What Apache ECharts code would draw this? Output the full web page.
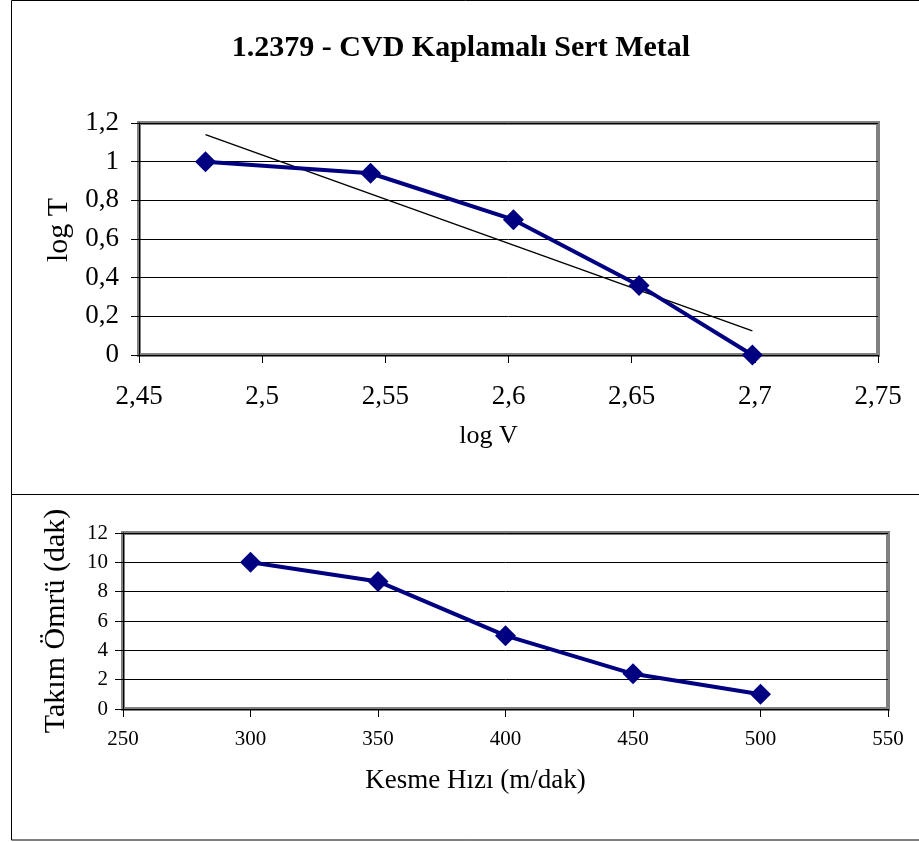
<!DOCTYPE html>
<html>
<head>
<meta charset="utf-8">
<script src="https://cdn.jsdelivr.net/npm/echarts@6/dist/echarts.min.js"></script>
<style>
html, body { margin: 0; padding: 0; background: #fff; }
#main { width: 919px; height: 842px; }
</style>
</head>
<body>
<div id="main"></div>
<script>
// kesme hizi (m/dak) ve takim omru (dak)
var speeds = [300, 350, 400, 450, 500];
var toolLife = [10, 8.7, 5, 2.4, 1];
// log degerleri
var logV = [2.477, 2.544, 2.602, 2.653, 2.699];
var logT = [1.0, 0.94, 0.70, 0.36, 0.0];
// trend cizgisinin uclari
var trendX = [2.477, 2.699];
var trendY = [1.14, 0.125];

var titleText = '1.2379 - CVD Kaplamalı Sert Metal';

function pairs(a, b) {
	var out = [];
	for (var i = 0; i < a.length; i++) out.push([a[i], b[i]]);
	return out;
}
function comma(v) {
	return String(v).replace('.', ',');
}

var serif = 'Liberation Serif';
var navy = '#000080';

var chart = echarts.init(document.getElementById('main'));
var option = {
	backgroundColor: '#fff',
	animation: false,
	title: {
		text: titleText,
		left: 456,
		textAlign: 'center',
		top: 28,
		textStyle: { fontFamily: serif, fontWeight: 'bold', fontSize: 30, color: '#000' }
	},
	graphic: [
		{ type: 'rect', shape: { x: 11.5, y: 0.5, width: 920, height: 494 }, style: { fill: 'none', stroke: '#000', lineWidth: 1 }, z: -1 },
		{ type: 'rect', shape: { x: 11.5, y: 494.5, width: 920, height: 345.5 }, style: { fill: 'none', stroke: '#000', lineWidth: 1 }, z: -1 }
	],
	grid: [
		{ left: 139, top: 123, right: 41, bottom: 487, show: true, borderColor: '#808080', borderWidth: 4 },
		{ left: 123, top: 533, right: 31, bottom: 133, show: true, borderColor: '#808080', borderWidth: 4 }
	],
	xAxis: [
		{
			gridIndex: 0, type: 'value', min: 2.45, max: 2.75, interval: 0.05,
			name: 'log V', nameLocation: 'middle', nameGap: 68,
			nameTextStyle: { fontFamily: serif, fontSize: 26, color: '#000', padding: [0, 40, 0, 0] },
			axisLine: { onZero: false, lineStyle: { color: '#000', width: 1 } },
			axisTick: { inside: false, length: 8, lineStyle: { color: '#000' } },
			axisLabel: { margin: 28, fontFamily: serif, fontSize: 27, color: '#000', formatter: comma },
			splitLine: { show: false }
		},
		{
			gridIndex: 1, type: 'value', min: 250, max: 550, interval: 50,
			name: 'Kesme Hızı (m/dak)', nameLocation: 'middle', nameGap: 58,
			nameTextStyle: { fontFamily: serif, fontSize: 27, color: '#000', padding: [0, 60, 0, 0] },
			axisLine: { onZero: false, lineStyle: { color: '#000', width: 1 } },
			axisTick: { inside: false, length: 8, lineStyle: { color: '#000' } },
			axisLabel: { margin: 20, fontFamily: serif, fontSize: 21, color: '#000' },
			splitLine: { show: false }
		}
	],
	yAxis: [
		{
			gridIndex: 0, type: 'value', min: 0, max: 1.2, interval: 0.2,
			name: 'log T', nameLocation: 'middle', nameGap: 55,
			nameTextStyle: { fontFamily: serif, fontSize: 30, color: '#000', padding: [0, 0, 0, 18] },
			axisLine: { show: true, onZero: false, lineStyle: { color: '#000', width: 1 } },
			axisTick: { show: true, inside: false, length: 8, lineStyle: { color: '#000' } },
			axisLabel: { margin: 20, fontFamily: serif, fontSize: 27, color: '#000', formatter: function (v) { return comma(+v.toFixed(1)); } },
			splitLine: { show: true, lineStyle: { color: '#000', width: 1 } }
		},
		{
			gridIndex: 1, type: 'value', min: 0, max: 12, interval: 2,
			name: 'Takım Ömrü (dak)', nameLocation: 'middle', nameGap: 52,
			nameTextStyle: { fontFamily: serif, fontSize: 30, color: '#000' },
			axisLine: { show: true, onZero: false, lineStyle: { color: '#000', width: 1 } },
			axisTick: { show: true, inside: false, length: 8, lineStyle: { color: '#000' } },
			axisLabel: { margin: 15, fontFamily: serif, fontSize: 21, color: '#000' },
			splitLine: { show: true, lineStyle: { color: '#000', width: 1 } }
		}
	],
	series: [
		{
			type: 'line', xAxisIndex: 0, yAxisIndex: 0,
			data: pairs(trendX, trendY),
			symbol: 'none', lineStyle: { color: '#000', width: 1.5 }, z: 3
		},
		{
			type: 'line', xAxisIndex: 0, yAxisIndex: 0,
			data: pairs(logV, logT),
			symbol: 'diamond', symbolSize: 21,
			itemStyle: { color: navy },
			lineStyle: { color: navy, width: 4 }, z: 4
		},
		{
			type: 'line', xAxisIndex: 1, yAxisIndex: 1,
			data: pairs(speeds, toolLife),
			symbol: 'diamond', symbolSize: 21,
			itemStyle: { color: navy },
			lineStyle: { color: navy, width: 4 }, z: 4
		}
	]
};
chart.setOption(option);
</script>
</body>
</html>
